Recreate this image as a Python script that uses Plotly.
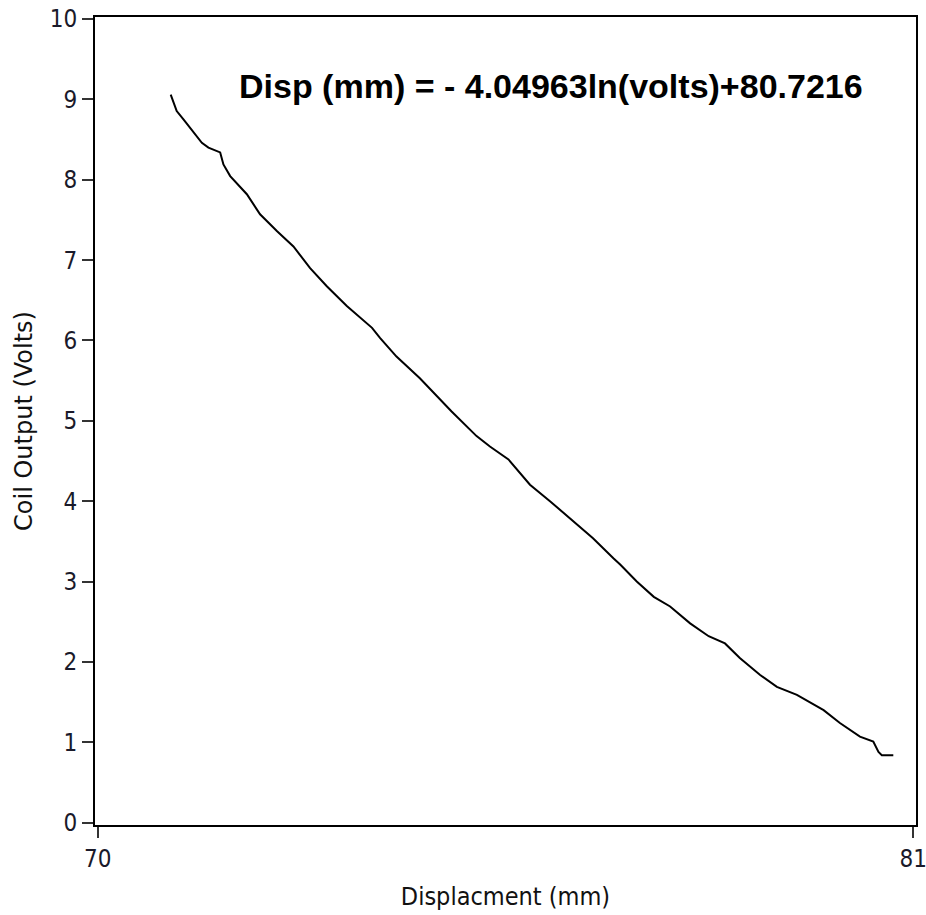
import plotly.graph_objects as go

displacement_mm = [70.985, 71.066, 71.157, 71.405, 71.494, 71.652, 71.696, 71.787, 72.012, 72.19,
                   72.42, 72.64, 72.865, 73.09, 73.36, 73.70, 73.81, 74.03, 74.345, 74.77,
                   75.11, 75.29, 75.54, 75.83, 76.10, 76.41, 76.68, 76.955, 77.05, 77.27,
                   77.50, 77.72, 77.99, 78.24, 78.46, 78.66, 78.93, 79.16, 79.43, 79.79,
                   80.01, 80.28, 80.46, 80.53, 80.575, 80.73]
coil_volts = [9.06, 8.855, 8.75, 8.46, 8.40, 8.34, 8.19, 8.045, 7.82, 7.57,
              7.36, 7.17, 6.90, 6.675, 6.43, 6.157, 6.03, 5.80, 5.53, 5.12,
              4.81, 4.68, 4.52, 4.205, 4.00, 3.75, 3.54, 3.29, 3.21, 3.00,
              2.81, 2.69, 2.48, 2.32, 2.23, 2.05, 1.84, 1.69, 1.59, 1.40,
              1.24, 1.07, 1.01, 0.88, 0.84, 0.84]

x_ticks = [70, 81]
y_ticks = [0, 1, 2, 3, 4, 5, 6, 7, 8, 9, 10]
equation = "Disp (mm) = - 4.04963ln(volts)+80.7216"
x_title = "Displacment (mm)"
y_title = "Coil Output (Volts)"

tick_font = dict(family="DejaVu Sans Condensed, DejaVu Sans", size=24, color="#1a1a2a")
x_title_font = dict(family="DejaVu Sans Condensed, DejaVu Sans", size=25, color="#111111")
y_title_font = dict(family="DejaVu Sans", size=24, color="#111111")

fig = go.Figure()
fig.add_trace(go.Scatter(x=displacement_mm, y=coil_volts, mode="lines",
                         line=dict(color="black", width=2), showlegend=False,
                         hoverinfo="skip"))

fig.update_layout(
    width=926, height=915,
    margin=dict(l=95, r=10, t=17, b=90, autoexpand=False),
    paper_bgcolor="white", plot_bgcolor="white",
    xaxis=dict(range=[69.964, 81.036], tickvals=x_ticks, ticktext=[str(v) for v in x_ticks],
               showgrid=False, zeroline=False, showline=True, mirror=True, automargin=False,
               linecolor="black", linewidth=2, ticks="outside", ticklen=11,
               tickcolor="#333333", tickwidth=2, tickfont=tick_font,
               ticklabeloverflow="allow",
               title=dict(text=x_title, font=x_title_font, standoff=16)),
    yaxis=dict(range=[-0.029, 10.025], tickvals=y_ticks, ticktext=[str(v) for v in y_ticks],
               showgrid=False, zeroline=False, showline=True, mirror=True, automargin=False,
               linecolor="black", linewidth=2, ticks="outside", ticklen=11,
               tickcolor="#333333", tickwidth=2, tickfont=tick_font,
               ticklabeloverflow="allow",
               title=dict(text=y_title, font=y_title_font, standoff=10)),
    annotations=[dict(text="<b>" + equation + "</b>", xref="paper", yref="paper",
                      x=0.555, y=0.914, xanchor="center", yanchor="middle", showarrow=False,
                      font=dict(family="Liberation Sans, Arial", size=34, color="black"))],
)

fig.write_html("out.html", config={"displayModeBar": False},
               post_script="document.body.style.margin='0';")
